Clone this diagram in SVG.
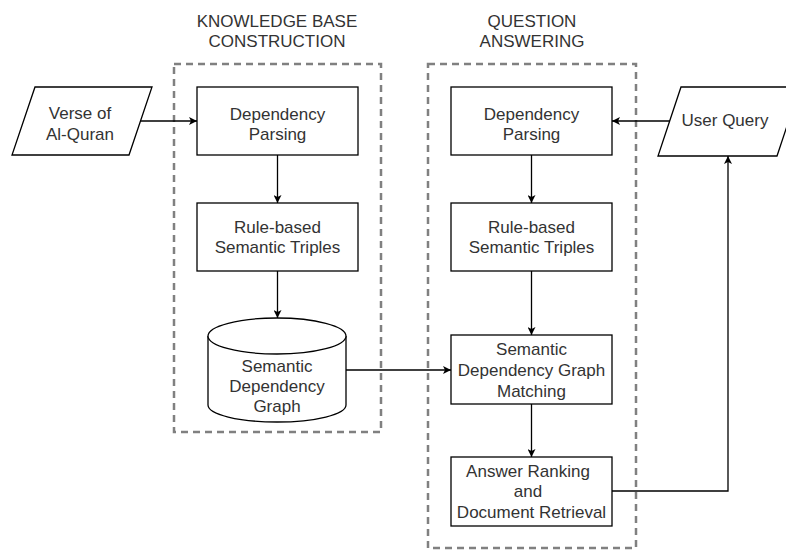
<svg xmlns="http://www.w3.org/2000/svg" width="786" height="550" viewBox="0 0 786 550">
<defs>
<marker id="arr" viewBox="0 0 10 10" refX="10" refY="5" markerWidth="8" markerHeight="8" markerUnits="userSpaceOnUse" orient="auto">
<path d="M0,0 L10,5 L0,10 L2.5,5 Z" fill="#000"/>
</marker>
</defs>
<style>
text{font-family:"Liberation Sans",Arial,sans-serif;font-size:17px;fill:#333;text-anchor:middle}
.box{fill:#fff;stroke:#000;stroke-width:1.3}
.grp{fill:none;stroke:#808080;stroke-width:2.5;stroke-dasharray:7 5}
.conn{fill:none;stroke:#000;stroke-width:1.3;marker-end:url(#arr)}
</style>
<rect width="786" height="550" fill="#fff"/>
<g id="kb-group">
<rect class="grp" x="174" y="64" width="207" height="368"/>
<text x="277" y="27">KNOWLEDGE BASE</text>
<text x="277" y="47">CONSTRUCTION</text>
</g>
<g id="qa-group">
<rect class="grp" x="428" y="64" width="208" height="484"/>
<text x="532" y="27">QUESTION</text>
<text x="532" y="47">ANSWERING</text>
</g>
<g id="connectors">
<path class="conn" d="M141,121 L197,121"/>
<path class="conn" d="M277.5,155 L277.5,203"/>
<path class="conn" d="M277.5,271 L277.5,318"/>
<path class="conn" d="M346,370 L451,370"/>
<path class="conn" d="M670,121 L612,121"/>
<path class="conn" d="M531.5,155 L531.5,203"/>
<path class="conn" d="M531.5,271 L531.5,335"/>
<path class="conn" d="M531.5,404 L531.5,457"/>
<path class="conn" d="M612,491 L728,491 L728,156"/>
</g>
<g id="verse">
<path class="box" d="M35,87 L152,87 L129,155 L12,155 Z"/>
<text x="80" y="119">Verse of</text>
<text x="80" y="140">Al-Quran</text>
</g>
<g id="kb-dep">
<rect class="box" x="197" y="87" width="161" height="68"/>
<text x="277.5" y="120">Dependency</text>
<text x="277.5" y="140">Parsing</text>
</g>
<g id="kb-rule">
<rect class="box" x="197" y="203" width="161" height="68"/>
<text x="277.5" y="233">Rule-based</text>
<text x="277.5" y="253">Semantic Triples</text>
</g>
<g id="kb-graph">
<path class="box" d="M208,336 A69,18 0 0 1 346,336 L346,405 A69,17 0 0 1 208,405 Z"/>
<path class="box" fill="none" d="M208,336 A69,18 0 0 0 346,336"/>
<text x="277" y="372">Semantic</text>
<text x="277" y="392">Dependency</text>
<text x="277" y="412">Graph</text>
</g>
<g id="user-query">
<path class="box" d="M681,87 L800,87 L777,156 L658,156 Z"/>
<text x="725" y="126">User Query</text>
</g>
<g id="qa-dep">
<rect class="box" x="451" y="87" width="161" height="68"/>
<text x="531.5" y="120">Dependency</text>
<text x="531.5" y="140">Parsing</text>
</g>
<g id="qa-rule">
<rect class="box" x="451" y="203" width="161" height="68"/>
<text x="531.5" y="233">Rule-based</text>
<text x="531.5" y="253">Semantic Triples</text>
</g>
<g id="qa-match">
<rect class="box" x="451" y="335" width="161" height="69"/>
<text x="531.5" y="355">Semantic</text>
<text x="531.5" y="376">Dependency Graph</text>
<text x="531.5" y="397">Matching</text>
</g>
<g id="qa-answer">
<rect class="box" x="451" y="457" width="161" height="69"/>
<text x="528" y="477">Answer Ranking</text>
<text x="528" y="497">and</text>
<text x="531.5" y="518">Document Retrieval</text>
</g>
</svg>
